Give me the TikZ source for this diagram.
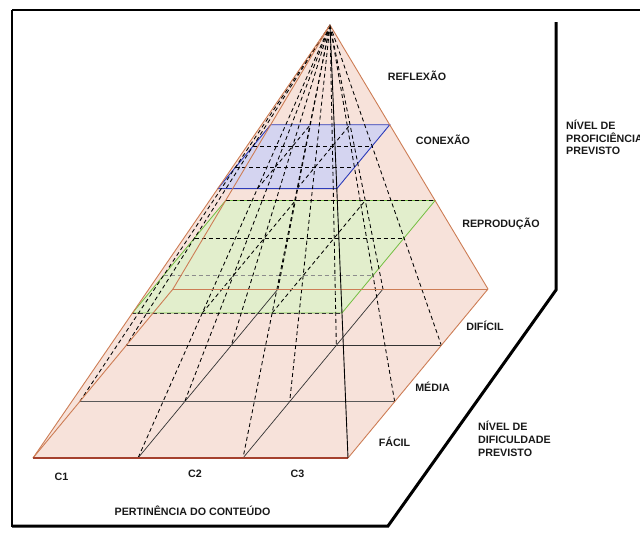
\documentclass[tikz,border=0pt]{standalone}
\usepackage{fontspec}
\setmainfont{Liberation Sans}
\usetikzlibrary{calc}
\definecolor{pinkfill}{RGB}{247,226,218}
\definecolor{edgeor}{RGB}{205,125,85}
\definecolor{frontedge}{RGB}{165,65,45}
\definecolor{greenfill}{RGB}{226,238,204}
\definecolor{greenline}{RGB}{115,190,65}
\definecolor{bluefill}{RGB}{212,212,240}
\definecolor{blueline}{RGB}{45,60,185}
\begin{document}
\begin{tikzpicture}[x=1pt,y=-1pt,
  lbl/.style={font=\bfseries\fontsize{10.7}{12.8}\selectfont, inner sep=0pt, text=black!90},
  lblleft/.style={lbl, align=left, anchor=west},
  hid/.style={dash pattern=on 4pt off 3pt, line width=0.85pt, black},
  hidgray/.style={dash pattern=on 4pt off 3pt, line width=0.85pt, black!45},
  gridline/.style={line width=0.7pt, black!80},
  oredge/.style={line width=0.9pt, edgeor},
  frame/.style={line width=2.4pt, black, line join=miter}]
\useasboundingbox (0,0) rectangle (640,536);

% key points
\coordinate (A) at (330,25);
\coordinate (FL) at (33,458);
\coordinate (FR) at (348,458);
\coordinate (BR) at (488,289);
\coordinate (BL) at (173,289);

\foreach \i in {0,1,2,3}{
  \foreach \j in {0,1,2,3}{
    \coordinate (P\i\j) at ($(FL)+\i*(105,0)+\j*(46.667,-56.333)$);
    \coordinate (G\i\j) at ($(P\i\j)!0.335!(A)$);
    \coordinate (H\i\j) at ($(P\i\j)!0.622!(A)$);
  }
}

% pyramid body
\fill[pinkfill] (A) -- (FL) -- (FR) -- (BR) -- cycle;

% section planes fills
\fill[greenfill] (G00) -- (G30) -- (G33) -- (G03) -- cycle;
\fill[bluefill] (H00) -- (H30) -- (H33) -- (H03) -- cycle;

% green plane internal grid
\draw[hidgray] (G01) -- (G31);
\draw[hid] (G02) -- (G32);
\draw[hid] (G10) -- (G13);
\draw[hid] (G20) -- (G23);
\draw[line width=0.8pt, greenline] (G00) -- (G30) -- (G33) -- (G03) -- cycle;
\draw[hid, black!80] (G00) -- (G30);
\draw[hid] (G03) -- (G33);

% blue plane internal grid
\draw[hid] (H01) -- (H31);
\draw[hid] (H02) -- (H32);
\draw[hid] (H10) -- (H13);
\draw[hid] (H20) -- (H23);
\draw[line width=0.9pt, blueline] (H00) -- (H30) -- (H33) -- (H03) -- cycle;

% base grid
\draw[gridline] (P10) -- (P13);
\draw[gridline] (P20) -- (P23);
\draw[gridline, black!65] (P01) -- (P31);
\draw[gridline] (P02) -- (P32);

% hidden lines from apex to base grid points
\foreach \p in {P10,P20,P01,P11,P21,P31,P02,P12,P22,P32,P13,P23}{
  \draw[hid] (A) -- (\p);
}

% pyramid edges
\draw[oredge] (BL) -- (BR);
\draw[oredge] (A) -- (BL);
\draw[oredge] (FL) -- (BL);
\draw[oredge] (A) -- (FL);
\draw[oredge] (A) -- (BR);
\draw[oredge] (FR) -- (BR);
\draw[line width=1.2pt, frontedge] (FL) -- (FR);
\draw[line width=0.9pt, black] (A) -- (FR);

% frame
\coordinate (TL) at (12,10);
\coordinate (TR) at (640,10);
\coordinate (BLc) at (12,527);
\coordinate (BM) at (388,526);
\coordinate (RD) at (556,290);
\coordinate (RT) at (556,22);
\draw[frame, line width=2.2pt] (TL) -- (TR);
\draw[frame, line width=1.6pt] (TL) -- (BLc);
\draw[frame, line width=3pt] ($(BLc)+(0,-1)$) -- (BM) -- (RD) -- (RT);

% labels
\node[lbl] (reflexao) at (417,76) {REFLEXÃO};
\node[lbl] (conexao) at (443,140) {CONEXÃO};
\node[lbl] (reproducao) at (501,224) {REPRODUÇÃO};
\node[lbl] (dificil) at (485,326) {DIFÍCIL};
\node[lbl] (media) at (432.5,387) {MÉDIA};
\node[lbl] (facil) at (394.5,442) {FÁCIL};
\node[lbl] (c1) at (61.5,477) {C1};
\node[lbl] (c2) at (195,473.5) {C2};
\node[lbl] (c3) at (297.5,474) {C3};
\node[lbl] (pert) at (192.5,511) {PERTINÊNCIA DO CONTEÚDO};
\node[lblleft] (dific) at (478,439) {NÍVEL DE\\DIFICULDADE\\PREVISTO};
\node[lblleft] (profic) at (566,137.5) {NÍVEL DE\\PROFICIÊNCIA\\PREVISTO};
\end{tikzpicture}
\end{document}
